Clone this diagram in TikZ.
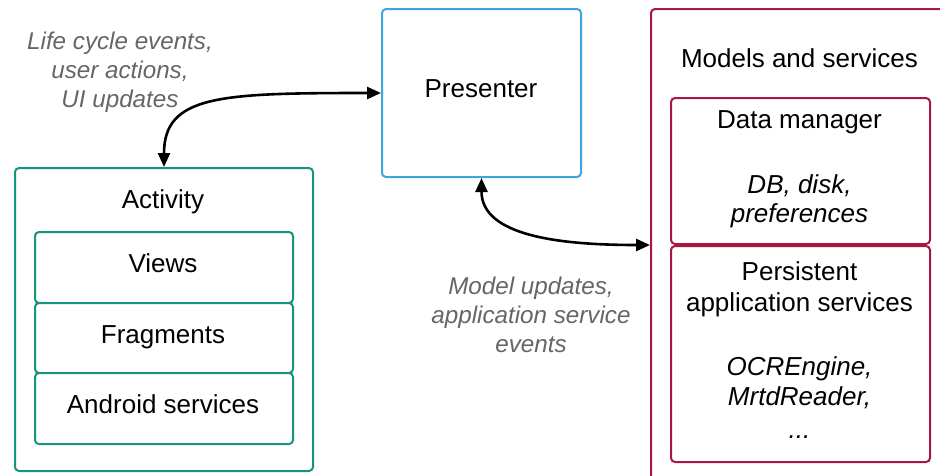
\documentclass[tikz,border=0pt]{standalone}
\usepackage{fontspec}
\setmainfont{Liberation Sans}
\usetikzlibrary{arrows.meta,calc}
\definecolor{actgreen}{HTML}{16957D}
\definecolor{presblue}{HTML}{3DA5E0}
\definecolor{modred}{HTML}{A8183E}
\definecolor{labgray}{HTML}{666666}
\begin{document}
\begin{tikzpicture}[x=1pt,y=-1pt,
  box/.style={draw, line width=2pt, rounded corners=4pt, fill=white, anchor=north west, inner sep=0pt},
  txt/.style={font=\fontsize{26}{30}\selectfont, inner sep=0pt, anchor=base},
  itxt/.style={font=\fontsize{26}{30}\selectfont\itshape, inner sep=0pt, anchor=base},
  lab/.style={font=\fontsize{24.2}{29}\selectfont\itshape, inner sep=0pt, anchor=base, text=labgray},
  arr/.style={line width=2.6pt, {Triangle[length=14pt,width=12pt]}-{Triangle[length=14pt,width=12pt]}}
]
\useasboundingbox (0,0) rectangle (940,475);
\clip (0,0) rectangle (940,475);
\fill[white] (0,0) rectangle (940,475);

% Activity
\node[box, draw=actgreen, minimum width=298pt, minimum height=303pt] (act) at (14,167) {};
\node[box, draw=actgreen, minimum width=258pt, minimum height=71pt] (views) at (34,231) {};
\node[box, draw=actgreen, minimum width=258pt, minimum height=70pt] (frag) at (34,302) {};
\node[box, draw=actgreen, minimum width=258pt, minimum height=71pt] (andr) at (34,372) {};
\node[txt] (tact) at (163,208) {Activity};
\node[txt] (tviews) at (163,272) {Views};
\node[txt] (tfrag) at (163,343) {Fragments};
\node[txt] (tandr) at (163,413) {Android services};

% Presenter
\node[box, draw=presblue, minimum width=199pt, minimum height=168pt] (pres) at (381,8) {};
\node[txt] (tpres) at (481,97) {Presenter};

% Models and services
\node[box, draw=modred, minimum width=310pt, minimum height=490pt] (models) at (650,8) {};
\node[box, draw=modred, minimum width=259pt, minimum height=146pt] (dm) at (670,97) {};
\node[box, draw=modred, minimum width=259pt, minimum height=216pt] (pas) at (670,245) {};
\node[txt] (tmodels) at (799.5,67) {Models and services};
\node[txt] (tdm) at (799.5,128) {Data manager};
\node[itxt] (tdb) at (799.5,193) {DB, disk,};
\node[itxt] (tpref) at (799.5,222) {preferences};
\node[txt] (tpers) at (799.5,280) {Persistent};
\node[txt] (tapp) at (799.5,311) {application services};
\node[itxt] (tocr) at (799.5,375) {OCREngine,};
\node[itxt] (tmrtd) at (799.5,405) {MrtdReader,};
\node[itxt] (tdots) at (799.5,438) {...};

% Gray labels
\node[lab] (l1) at (120,49) {Life cycle events,};
\node[lab] (l2) at (120,78) {user actions,};
\node[lab] (l3) at (120,107) {UI updates};
\node[lab] (m1) at (531,294) {Model updates,};
\node[lab] (m2) at (531,323) {application service};
\node[lab] (m3) at (531,352) {events};

% Connectors
\draw[arr] (act.north) .. controls +(0,-72) and +(-161,0) .. (pres.west);
\draw[arr] (pres.south) .. controls +(0,58) and +(-90,0) .. (models.west |- dm.south);
\end{tikzpicture}
\end{document}
